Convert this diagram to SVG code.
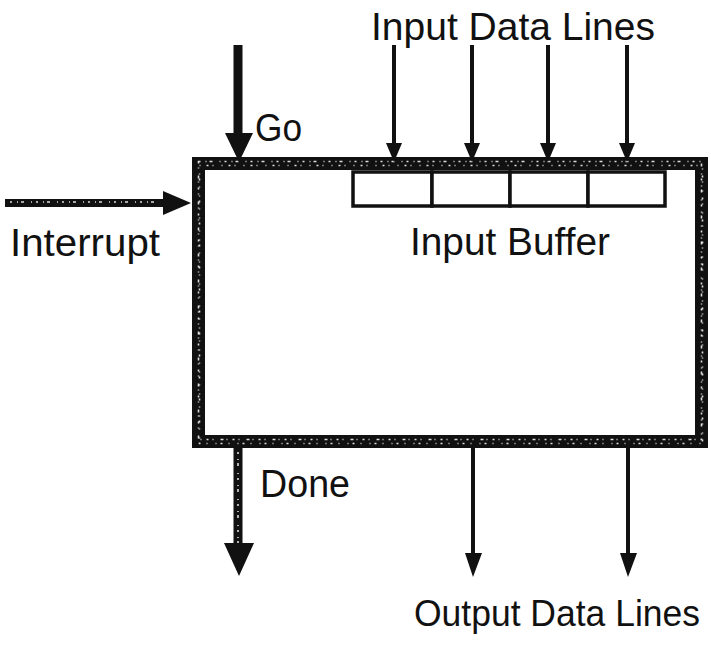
<svg xmlns="http://www.w3.org/2000/svg" width="711" height="648" viewBox="0 0 711 648">
<style>
.lbl{font-family:"Liberation Sans",Arial,sans-serif;font-size:39px;fill:#111}
.thin{stroke:#111;stroke-width:4;fill:none}
.thick{stroke:#111;stroke-width:9;fill:none}
.speck{stroke:#fff;stroke-width:1.6;fill:none;stroke-dasharray:2 5 1 3 3 7 1 4;opacity:0.85}
.head{fill:#111}
.cell{fill:#fff;stroke:#111;stroke-width:3.5}
</style>
<rect width="711" height="648" fill="#fff"/>
<g id="processor">
<rect x="198.5" y="163.5" width="503" height="278" fill="#fff" stroke="#111" stroke-width="13"/>
<rect x="198.5" y="163.5" width="503" height="278" class="speck" transform="translate(0,-2)"/>
<rect x="198.5" y="163.5" width="503" height="278" class="speck" transform="translate(1,2)" style="stroke-dasharray:1 6 2 4 1 8"/>
</g>
<g id="input-buffer">
<rect x="353" y="172" width="79" height="34" class="cell"/>
<rect x="432" y="172" width="78" height="34" class="cell"/>
<rect x="510" y="172" width="78" height="34" class="cell"/>
<rect x="588" y="172" width="77" height="34" class="cell"/>
<text class="lbl" x="410" y="255" textLength="200" lengthAdjust="spacingAndGlyphs">Input Buffer</text>
</g>
<g id="connectors">
<line x1="238" y1="45" x2="238" y2="136" class="thick"/>
<polygon class="head" points="225,133 253,133 239,162"/>
<line x1="5" y1="203" x2="166" y2="203" stroke="#111" stroke-width="8"/>
<line x1="10" y1="202" x2="160" y2="202" class="speck"/>
<polygon class="head" points="163,191 163,215 191,203"/>
<line x1="394" y1="45" x2="394" y2="146" class="thin"/>
<polygon class="head" points="386,143 402,143 394,162"/>
<line x1="472" y1="45" x2="472" y2="146" class="thin"/>
<polygon class="head" points="464,143 480,143 472,162"/>
<line x1="548" y1="45" x2="548" y2="146" class="thin"/>
<polygon class="head" points="540,143 556,143 548,162"/>
<line x1="627" y1="45" x2="627" y2="146" class="thin"/>
<polygon class="head" points="619,143 635,143 627,162"/>
<line x1="238" y1="446" x2="238" y2="547" class="thick"/>
<line x1="238" y1="452" x2="238" y2="545" class="speck"/>
<polygon class="head" points="224,543 254,543 239,576"/>
<line x1="473" y1="446" x2="473" y2="556" class="thin"/>
<polygon class="head" points="465,553 482,553 473,577"/>
<line x1="628" y1="446" x2="628" y2="556" class="thin"/>
<polygon class="head" points="620,553 637,553 628,577"/>
</g>
<g id="labels">
<text class="lbl" x="371" y="40" textLength="284" lengthAdjust="spacingAndGlyphs">Input Data Lines</text>
<text class="lbl" x="255" y="141" textLength="47" lengthAdjust="spacingAndGlyphs">Go</text>
<text class="lbl" x="10" y="256" textLength="150" lengthAdjust="spacingAndGlyphs">Interrupt</text>
<text class="lbl" x="260" y="497" textLength="90" lengthAdjust="spacingAndGlyphs">Done</text>
<text class="lbl" x="414" y="626" style="font-size:37px" textLength="286" lengthAdjust="spacingAndGlyphs">Output Data Lines</text>
</g>
</svg>
